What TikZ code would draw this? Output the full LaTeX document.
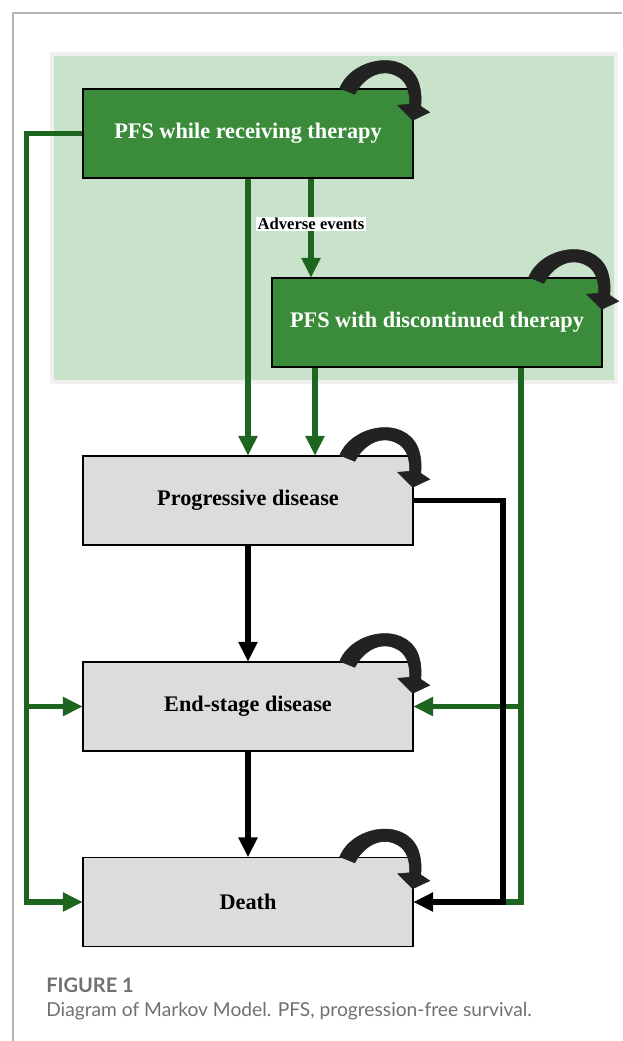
\documentclass[tikz,border=0pt]{standalone}
\usepackage{fontspec}
\setmainfont{Liberation Serif}
\newfontfamily\capfont{Lato}
\usetikzlibrary{arrows.meta}
\definecolor{bgc}{HTML}{C8E3C9}
\definecolor{boxg}{HTML}{3A8C3A}
\definecolor{lineg}{HTML}{1E661F}
\definecolor{boxgr}{HTML}{DCDCDC}
\definecolor{framec}{HTML}{B4B4B4}
\definecolor{loopc}{HTML}{222222}
\definecolor{capc}{HTML}{707070}
\tikzset{
  gbox/.style={draw=black, line width=1.1pt, fill=boxg, text=white, minimum width=247.5pt, minimum height=66.75pt, inner sep=0pt, font=\fontsize{16.7}{18}\selectfont\bfseries},
  grbox/.style={gbox, fill=boxgr, text=black},
  gline/.style={draw=lineg, line width=4.2pt, line join=miter, line cap=butt},
  garrow/.style={gline, -{Triangle[length=15pt, width=13.5pt]}, shorten >=-0.5pt},
  barrow/.style={draw=black, line width=4.2pt, line join=miter, -{Triangle[length=15pt, width=13.5pt]}, shorten >=-0.5pt},
  aelabel/.style={fill=white, inner sep=1pt, text=black, font=\fontsize{12.5}{13}\selectfont\bfseries},
}
\newcommand{\selfloop}[1]{%
  \begin{scope}[shift={(#1)}]
    \fill[loopc, draw=loopc, line width=0.4pt]
      (-74,0) .. controls (-62,-30) and (-10,-40) .. (4,-8)
      .. controls (7,0) and (8,8) .. (7,18) -- (16,24) -- (-1,32) -- (-16,17) -- (-4,16)
      .. controls (-4,5) and (-6,-3) .. (-12,-9)
      .. controls (-28,-22) and (-48,-14) .. (-59,6) -- cycle;
  \end{scope}}
\begin{document}
\begin{tikzpicture}[x=0.75pt, y=-0.75pt]
\useasboundingbox (0,0) rectangle (622,1041);
% frame
\draw[framec, line width=0.9pt] (13,1041) -- (13,13) -- (622,13);
% background
\fill[black!6] (50,52) rectangle (618,384);
\fill[bgc] (54,56) rectangle (614,380);
% boxes
\node[gbox] (b1) at (248,133.5) {PFS while receiving therapy};
\node[gbox] (b2) at (437,322.5) {PFS with discontinued therapy};
\node[grbox] (b3) at (248,500.5) {Progressive disease};
\node[grbox] (b4) at (248,706.5) {End-stage disease};
\node[grbox] (b5) at (248,902) {Death};
% helper coordinates
\coordinate (xl) at (26.5,0);
\coordinate (xae) at (311,0);
\coordinate (xd) at (315,0);
\coordinate (xr) at (521,0);
\coordinate (xb) at (503,0);
\coordinate (bj) at (xb |- b5.east);
% left green
\draw[garrow] (b1.west) -| (xl |- b5.west) -- (b5.west);
\draw[garrow] (xl |- b4.west) -- (b4.west);
% green verticals
\draw[garrow] (b1.south) -- (b3.north);
\draw[garrow] (b1.south -| xae) -- node[aelabel, pos=0.46] {Adverse events} (b2.north -| xae);
\draw[garrow] (b2.south -| xd) -- (b3.north -| xd);
% right green
\draw[gline] (b2.south -| xr) -- (xr |- b5.east) -- ([xshift=-1.5pt]bj);
\draw[garrow] (xr |- b4.east) -- (b4.east);
% black
\draw[barrow] (b3.east) -| (bj) -- (b5.east);
\draw[barrow] (b3.south) -- (b4.north);
\draw[barrow] (b4.south) -- (b5.north);
% self loops
\selfloop{b1.north east}
\selfloop{b2.north east}
\selfloop{b3.north east}
\selfloop{b4.north east}
\selfloop{b5.north east}
% caption
\node[anchor=base west, inner sep=0pt, text=capc, font=\capfont\bfseries\fontsize{15}{17}\selectfont] (fig) at (46,992) {FIGURE 1};
\node[anchor=base west, inner sep=0pt, text=capc, font=\capfont\fontsize{14.4}{16}\selectfont] (cap) at (46,1016) {Diagram of Markov Model. PFS, progression-free survival.};
\end{tikzpicture}
\end{document}
